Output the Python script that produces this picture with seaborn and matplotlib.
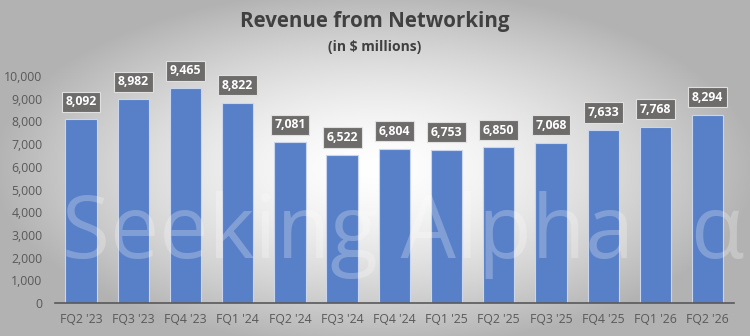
import numpy as np
import matplotlib
matplotlib.use("Agg")
import matplotlib.pyplot as plt
import seaborn as sns

categories = ["FQ2 '23", "FQ3 '23", "FQ4 '23", "FQ1 '24", "FQ2 '24", "FQ3 '24",
              "FQ4 '24", "FQ1 '25", "FQ2 '25", "FQ3 '25", "FQ4 '25", "FQ1 '26", "FQ2 '26"]
values = [8092, 8982, 9465, 8822, 7081, 6522, 6804, 6753, 6850, 7068, 7633, 7768, 8294]
yticks = list(range(0, 10001, 1000))

sns.set_theme(style="white")
plt.rcParams['font.family'] = ['Open Sans', 'DejaVu Sans']

fig = plt.figure(figsize=(7.5, 3.36), dpi=100)

# radial gradient background
bg = fig.add_axes([0, 0, 1, 1], zorder=-10)
xx, yy = np.meshgrid(np.linspace(-1, 1, 750), np.linspace(-1, 1, 336))
r = np.sqrt((xx / 0.95) ** 2 + (yy / 1.0) ** 2)
img = 1.0 - 0.27 * np.clip(r, 0, 1.6) ** 1.5
img = np.clip(img, 0.7, 1)
bg.imshow(np.dstack([img, img, img]), aspect="auto", extent=[0, 1, 0, 1], vmin=0, vmax=1)
bg.axis("off")

ax = fig.add_axes([0.0733, 0.098, 0.905, 0.676])
ax.set_facecolor("none")
sns.barplot(x=categories, y=values, color="#5880C8", width=0.6, ax=ax,
            edgecolor="#C9D6EE", linewidth=0.8, saturation=1)
ax.set_ylim(0, 10000)
ax.set_yticks(yticks)
ax.set_yticklabels([f"{v:,}" for v in yticks], fontsize=8.8, color="#595959")
ax.tick_params(axis="x", labelsize=8.8, labelcolor="#595959", length=0, pad=7)
ax.tick_params(axis="y", length=0, pad=9)
ax.set_xlabel("")
ax.set_ylabel("")
for s in ["top", "right", "left"]:
    ax.spines[s].set_visible(False)
ax.spines["bottom"].set_color("#595959")
ax.spines["bottom"].set_linewidth(1.2)
ax.set_xlim(-0.5, len(categories) - 0.5)

for i, v in enumerate(values):
    ax.annotate(f"{v:,}", (i, v), xytext=(0, 12.5), textcoords="offset points",
                ha="center", va="center", fontsize=8.8, fontweight="bold", color="white",
                bbox=dict(boxstyle="square,pad=0.3", fc="#6E6B6B", ec="#E0E0E0", lw=0.8),
                annotation_clip=False)

fig.text(0.5, 0.935, "Revenue from Networking", ha="center", va="center",
         fontsize=14.8, fontweight="bold", color="#404040")
fig.text(0.5, 0.86, "(in $ millions)", ha="center", va="center",
         fontsize=10, fontweight="bold", color="#404040")

fig.text(0.083, 0.232, "Seeking Alpha", ha="left", va="baseline", fontsize=63,
         color="white", alpha=0.25, zorder=5)
fig.text(0.92, 0.232, "α", ha="left", va="baseline", fontsize=63,
         color="white", alpha=0.25, zorder=5)

fig.savefig("out.png", dpi=100)
